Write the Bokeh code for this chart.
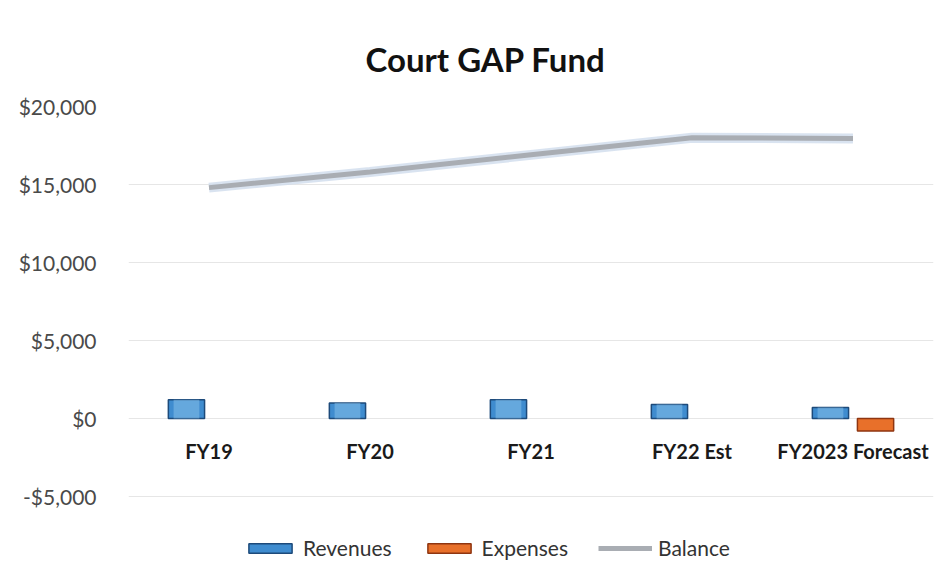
from bokeh.plotting import figure
from bokeh.models import (ColumnDataSource, Range1d, NumeralTickFormatter, FixedTicker,
                          Legend, LegendItem)
from bokeh.transform import dodge
from bokeh.core.properties import value
from bokeh.embed import file_html
from bokeh.resources import INLINE

nan = float("nan")
categories = ["FY19", "FY20", "FY21", "FY22 Est", "FY2023 Forecast"]
revenues = [1200, 1000, 1200, 900, 700]
expenses = [nan, nan, nan, nan, -800]
balance = [14800, 15800, 16900, 18000, 17950]
y_ticks = [-5000, 0, 5000, 10000, 15000, 20000]

FONT = "Lato"

src = ColumnDataSource(dict(cat=categories, rev=revenues, exp=expenses, bal=balance,
                            zero=[0] * len(categories)))

# frame extends below the -5000 gridline to hold the legend
p = figure(width=940, height=574, x_range=categories, y_range=Range1d(-10000, 20000),
           output_backend="svg", toolbar_location=None, x_axis_location=None,
           min_border_left=128, min_border_right=7, min_border_top=106, min_border_bottom=0)
p.outline_line_color = None
p.background_fill_color = "white"
p.border_fill_color = "white"

p.title.text = "Court GAP Fund"
p.title.align = "left"
p.title.offset = 237
p.title.text_font = FONT
p.title.text_font_style = "bold"
p.title.text_font_size = "33px"
p.title.text_color = "#111111"
p.title.standoff = 55

# grid
p.xgrid.grid_line_color = None
p.ygrid.grid_line_color = "#e6e6e6"
p.ygrid.grid_line_width = 1

# y axis
p.yaxis.ticker = FixedTicker(ticks=y_ticks)
p.yaxis.formatter = NumeralTickFormatter(format="$0,0")
p.yaxis.axis_line_color = None
p.yaxis.major_tick_line_color = None
p.yaxis.minor_tick_line_color = None
p.yaxis.major_label_text_font = FONT
p.yaxis.major_label_text_font_size = "21px"
p.yaxis.major_label_text_color = "#4a4a4a"
p.yaxis.major_label_standoff = 26

# bars
r_rev = p.vbar(x=dodge("cat", -0.14, range=p.x_range), top="rev", bottom=0, width=0.225,
               source=src, fill_color="#3f8ccf", line_color="#1d4a7a", line_width=1.5)
p.vbar(x=dodge("cat", -0.14, range=p.x_range), top="rev", bottom=0, width=0.16,
       source=src, fill_color="#8cc3ec", fill_alpha=0.5, line_color=None)
r_exp = p.vbar(x=dodge("cat", 0.14, range=p.x_range), top="exp", bottom=0, width=0.225,
               source=src, fill_color="#e8702a", line_color="#8f3510", line_width=1.5)

# balance line
p.line(x="cat", y="bal", source=src, line_color="#cfdcec", line_width=10, line_alpha=0.8)
r_bal = p.line(x="cat", y="bal", source=src, line_color="#a9adb3", line_width=5)

# category labels at the zero line
p.text(x="cat", y="zero", text="cat", source=src, text_font=value(FONT),
       text_font_style="bold", text_font_size="20px", text_color="#1a1a1a",
       text_align="center", text_baseline="middle", y_offset=32)

legend = Legend(items=[LegendItem(label="Revenues", renderers=[r_rev]),
                       LegendItem(label="Expenses", renderers=[r_exp]),
                       LegendItem(label="Balance", renderers=[r_bal])],
                orientation="horizontal", location=(115, 14),
                glyph_width=54, glyph_height=12, label_standoff=6, spacing=30,
                padding=0, margin=0, border_line_color=None, background_fill_alpha=0,
                label_text_font=FONT, label_text_font_size="21px", label_text_color="#333333")
p.add_layout(legend, "center")

open("out.html", "w").write(file_html(p, INLINE))
